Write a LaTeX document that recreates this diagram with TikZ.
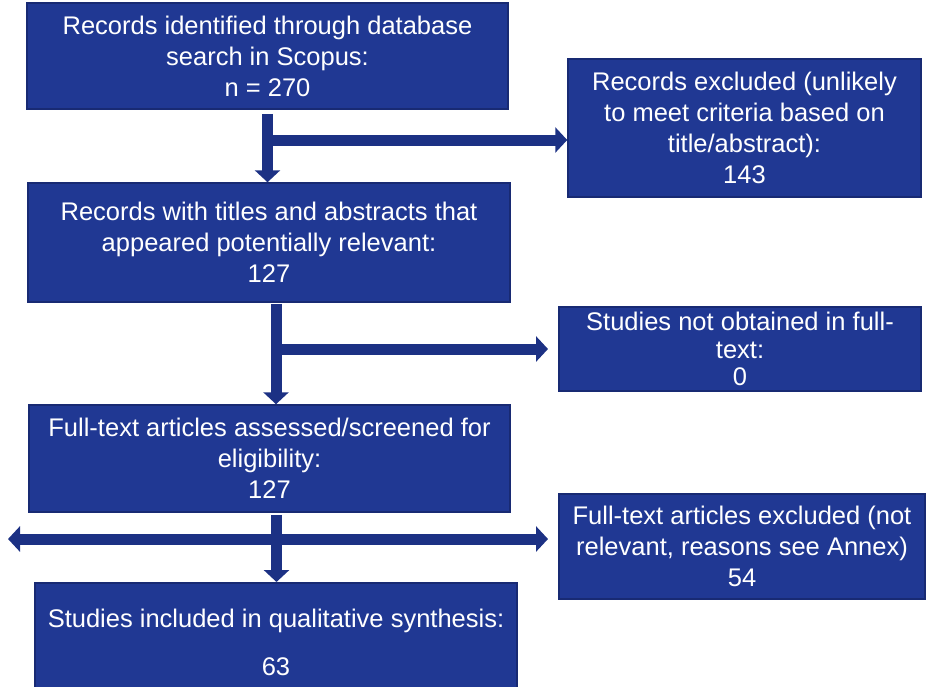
\documentclass[tikz,border=0pt]{standalone}
\usepackage{fontspec}
\setmainfont{Liberation Sans}
\usetikzlibrary{arrows.meta}
\definecolor{boxblue}{RGB}{32,56,147}
\definecolor{edgeblue}{RGB}{24,42,115}
\definecolor{arrowblue}{RGB}{28,49,132}

\begin{document}
\begin{tikzpicture}[x=1pt,y=-1pt,
  box/.style={rectangle,draw=edgeblue,fill=boxblue,line width=1.5pt,text=white,align=center,inner sep=0pt,font=\fontsize{25.5}{31}\selectfont},
  flow/.style={draw=arrowblue,line width=11pt,-{Triangle[length=12pt,width=25pt]}}]
\useasboundingbox (0,0) rectangle (932,686);
% left column
\node[box,minimum width=481pt,minimum height=106pt] (Found) at (267.5,56) {Records identified through database\\search in Scopus:\\n = 270};
\node[box,minimum width=482pt,minimum height=119pt] (Relevant) at (269,242.5) {Records with titles and abstracts that\\appeared potentially relevant:\\127};
\node[box,minimum width=481pt,minimum height=107pt] (Assessed) at (269.5,458.5) {Full-text articles assessed/screened for\\eligibility:\\127};
\node[box,minimum width=482pt,minimum height=120pt,anchor=north] (Included) at (276,582) {Studies included in qualitative synthesis:\\[17pt]63};
% right column
\node[box,minimum width=353pt,minimum height=138pt] (Excluded) at (744.5,128) {Records excluded (unlikely\\to meet criteria based on\\title/abstract):\\143};
\node[box,minimum width=362pt,minimum height=84pt,font=\fontsize{25.5}{27.5}\selectfont] (NotObtained) at (740,349) {Studies not obtained in full-\\text:\\0};
\node[box,minimum width=366pt,minimum height=105pt] (FullExcl) at (742,546.5) {Full-text articles excluded (not\\relevant, reasons see Annex)\\54};
% arrows
\coordinate (j1) at (268,140);
\coordinate (j2) at (276,349);
\coordinate (j3) at (276.5,539);
\coordinate (left) at (8,539);
\draw[flow,shorten <=4pt] (Found.south) -- (Found.south |- Relevant.north);
\draw[flow] (j1) -- (j1 -| Excluded.west);
\draw[flow] (j2 |- Relevant.south) ++(0,1) -- (j2 |- Assessed.north);
\draw[flow] (j2) -- ++(272,0);
\draw[flow] (j3 |- Assessed.south) ++(0,2) -- (j3 |- Included.north);
\draw[flow,{Triangle[length=12pt,width=25pt]}-{Triangle[length=12pt,width=25pt]}] (left) -- ++(540,0);
\end{tikzpicture}
\end{document}
